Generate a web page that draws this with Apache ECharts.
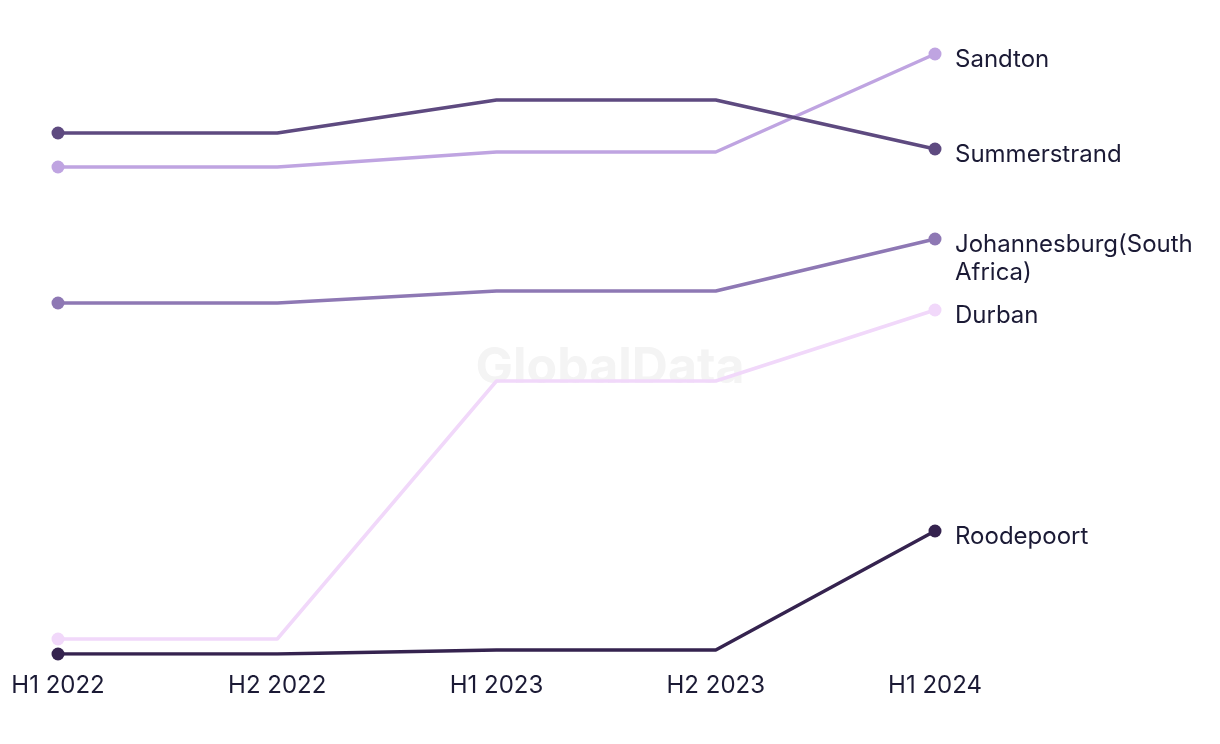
<!DOCTYPE html>
<html>
<head>
<meta charset="utf-8">
<script src="https://cdn.jsdelivr.net/npm/echarts@6/dist/echarts.min.js"></script>
<style>
  html, body { margin: 0; padding: 0; background: #fff; }
  #chart { width: 1220px; height: 744px; }
</style>
</head>
<body>
<div id="chart"></div>
<script>
const periods = ['H1 2022', 'H2 2022', 'H1 2023', 'H2 2023', 'H1 2024']
const summerstrand = [521, 521, 554, 554, 505]
const sandton = [487, 487, 502, 502, 600]
const johannesburg = [351, 351, 363, 363, 415]
const durban = [15, 15, 273, 273, 344]
const roodepoort = [0, 0, 4, 4, 123]

const textColor = '#1b1a35'
const font = 'Inter, "Noto Sans", sans-serif'

const makeSeries = (name, data, color, offset) => ({
  name,
  type: 'line',
  data,
  symbol: 'circle',
  showAllSymbol: true,
  lineStyle: { color, width: 3.5 },
  itemStyle: { color },
  // only first and last dots are drawn
  symbolSize: (v, p) => (p.dataIndex === 0 || p.dataIndex === data.length - 1 ? 13 : 0),
  endLabel: {
    show: true,
    formatter: '{a}',
    color: textColor,
    fontFamily: font,
    fontSize: 24,
    lineHeight: 28,
    distance: 20,
    offset: offset || [0, 6]
  },
  emphasis: { disabled: true }
})

const chart = echarts.init(document.getElementById('chart'))
chart.setOption({
  animation: false,
  graphic: [{
    type: 'text',
    left: 'center',
    top: 343,
    style: {
      text: 'GlobalData',
      font: 'bold 50px ' + font,
      fill: '#f4f4f4'
    },
    z: -1
  }],
  grid: { left: 58, right: 285, top: 54, bottom: 90 },
  xAxis: {
    type: 'category',
    data: periods,
    boundaryGap: false,
    axisLine: { show: false },
    axisTick: { show: false },
    axisLabel: { color: textColor, fontFamily: font, fontSize: 24, margin: 20 }
  },
  yAxis: {
    type: 'value',
    min: 0,
    max: 600,
    show: false,
    splitLine: { show: false }
  },
  series: [
    makeSeries('Roodepoort', roodepoort, '#35234f'),
    makeSeries('Durban', durban, '#f1d8fa'),
    makeSeries('Johannesburg(South\nAfrica)', johannesburg, '#8e78b4', [0, 20]),
    makeSeries('Sandton', sandton, '#bfa4e1'),
    makeSeries('Summerstrand', summerstrand, '#5e4a80')
  ]
})
</script>
</body>
</html>
